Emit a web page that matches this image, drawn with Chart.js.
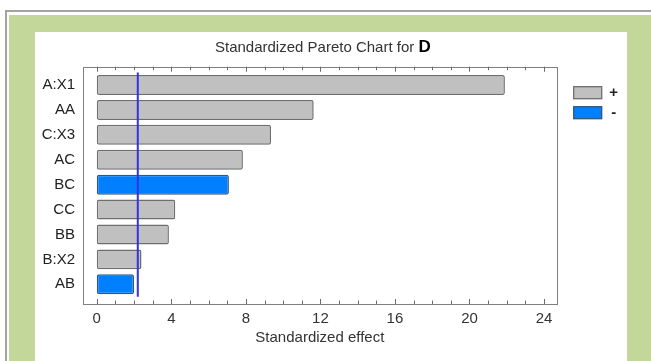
<!DOCTYPE html>
<html>
<head>
<meta charset="utf-8">
<script src="https://cdn.jsdelivr.net/npm/chart.js@4"></script>
<style>
  html, body { margin: 0; padding: 0; background: #fff; width: 651px; height: 361px; overflow: hidden; }
  #rule  { position: absolute; left: 5px; top: 10px; width: 700px; height: 400px;
           border-left: 2px solid #a3a3a3; border-top: 2px solid #a3a3a3; }
  #frame { position: absolute; left: 9px; top: 15px; width: 642px; height: 346px; background: #c4d79b; }
  #panel { position: absolute; left: 35px; top: 32px; width: 592px; height: 329px; background: #fff; }
  canvas { display: block; }
</style>
</head>
<body>
<div id="rule"></div>
<div id="frame"></div>
<div id="panel"><canvas id="pareto" width="592" height="329"></canvas></div>
<script>
// Effects, sorted by size, with the sign of each estimated effect
const categories = ['A:X1', 'AA', 'C:X3', 'AC', 'BC', 'CC', 'BB', 'B:X2', 'AB'];
const effects    = [21.9, 11.64, 9.35, 7.84, 7.09, 4.21, 3.87, 2.40, 2.00];
const signs      = ['+', '+', '+', '+', '-', '+', '+', '+', '-'];
const criticalEffect = 2.2;           // significance threshold
const effectTicks = [0, 4, 8, 12, 16, 20, 24];
const minorTicks  = [0,1,2,3,4,5,6,7,8,9,10,11,12,13,14,15,16,17,18,19,20,21,22,23,24];
const titleText = 'Standardized Pareto Chart for ';
const responseName = 'D';
const legendLabels = ['+', '-'];

const FONT = '"Liberation Sans", Arial, sans-serif';
const signStyle = {
  '+': { fill: '#c0c0c0', stroke: '#6e6e6e' },
  '-': { fill: '#0080ff', stroke: '#34577c' }
};

// Box around the plot area with inward tick marks on top and bottom
const plotFrame = {
  id: 'plotFrame',
  afterDatasetsDraw(chart) {
    const { ctx, chartArea: a, scales: { x } } = chart;
    ctx.save();
    ctx.strokeStyle = '#7f7f7f';
    ctx.lineWidth = 1;
    ctx.strokeRect(Math.round(a.left) + 0.5, Math.round(a.top) + 0.5,
                   Math.round(a.right - a.left), Math.round(a.bottom - a.top));
    ctx.strokeStyle = '#6a6a6a';
    minorTicks.forEach(v => {
      const px = Math.round(x.getPixelForValue(v)) + 0.5;
      const len = v % 4 === 0 ? 5 : 3.5;
      ctx.beginPath();
      ctx.moveTo(px, a.bottom); ctx.lineTo(px, a.bottom - len);
      ctx.moveTo(px, a.top);    ctx.lineTo(px, a.top + len);
      ctx.stroke();
    });
    ctx.restore();
  }
};

// Title with the response name in bold, plus the sign legend
const titleAndLegend = {
  id: 'titleAndLegend',
  afterDraw(chart) {
    const { ctx, chartArea: a } = chart;
    ctx.save();
    ctx.textBaseline = 'alphabetic';
    ctx.font = '15px ' + FONT;
    const w1 = ctx.measureText(titleText).width;
    ctx.font = 'bold 17px ' + FONT;
    const w2 = ctx.measureText(responseName).width;
    const start = (a.left + a.right) / 2 + 3 - (w1 + w2) / 2;
    ctx.textAlign = 'left';
    ctx.fillStyle = '#333';
    ctx.font = '15px ' + FONT;
    ctx.fillText(titleText, start, 20);
    ctx.fillStyle = '#000';
    ctx.font = 'bold 17px ' + FONT;
    ctx.fillText(responseName, start + w1, 20);

    legendLabels.forEach((lab, i) => {
      const st = signStyle[lab];
      const bx = a.right + 17, by = a.top + 20 + i * 20;
      ctx.fillStyle = st.fill;
      ctx.strokeStyle = st.stroke;
      ctx.lineWidth = 1.3;
      ctx.fillRect(bx, by, 28, 12);
      ctx.strokeRect(bx, by, 28, 12);
      ctx.fillStyle = '#222';
      ctx.font = 'bold 15px ' + FONT;
      ctx.textAlign = 'center';
      ctx.textBaseline = 'middle';
      ctx.fillText(lab, bx + 40, by + 6);
    });
    ctx.restore();
  }
};

new Chart(document.getElementById('pareto'), {
  data: {
    datasets: [
      {
        type: 'bar',
        order: 1,
        data: effects.map((v, i) => ({ x: v, y: i })),
        backgroundColor: signs.map(s => signStyle[s].fill),
        borderColor: signs.map(s => signStyle[s].stroke),
        borderWidth: 1.5,
        borderRadius: 2,
        borderSkipped: false,
        barPercentage: 0.8,
        categoryPercentage: 1
      },
      {
        type: 'line',
        order: 0,
        data: [{ x: criticalEffect, y: -0.5 }, { x: criticalEffect, y: categories.length - 0.5 }],
        borderColor: '#3232e6',
        borderWidth: 2,
        pointRadius: 0,
        fill: false
      }
    ]
  },
  options: {
    indexAxis: 'y',
    responsive: false,
    animation: false,
    events: [],
    layout: { padding: { left: 0, top: 34.7, right: 70.3, bottom: 0 } },
    plugins: { legend: { display: false }, tooltip: { enabled: false }, title: { display: false } },
    scales: {
      x: {
        type: 'linear',
        position: 'bottom',
        min: -0.74,
        max: 24.68,
        offset: false,
        grid: { display: false, drawTicks: false },
        border: { display: false },
        afterBuildTicks: s => { s.ticks = effectTicks.map(v => ({ value: v })); },
        ticks: { padding: 6, color: '#333', font: { family: FONT, size: 15 } },
        title: {
          display: true,
          text: 'Standardized effect',
          color: '#333',
          font: { family: FONT, size: 15 },
          padding: { top: 2, bottom: 14 }
        },
        afterFit: s => { s.height = 57; }
      },
      y: {
        type: 'linear',
        reverse: true,
        min: -0.735,
        max: 8.79,
        offset: false,
        grid: { display: false, drawTicks: false, offset: false },
        border: { display: false },
        afterBuildTicks: s => { s.ticks = categories.map((c, i) => ({ value: i })); },
        ticks: {
          padding: 8,
          color: '#222',
          font: { family: FONT, size: 15 },
          autoSkip: false,
          callback: (v, i) => categories[i]
        },
        afterFit: s => { s.width = 48; }
      }
    }
  },
  plugins: [plotFrame, titleAndLegend]
});
</script>
</body>
</html>
